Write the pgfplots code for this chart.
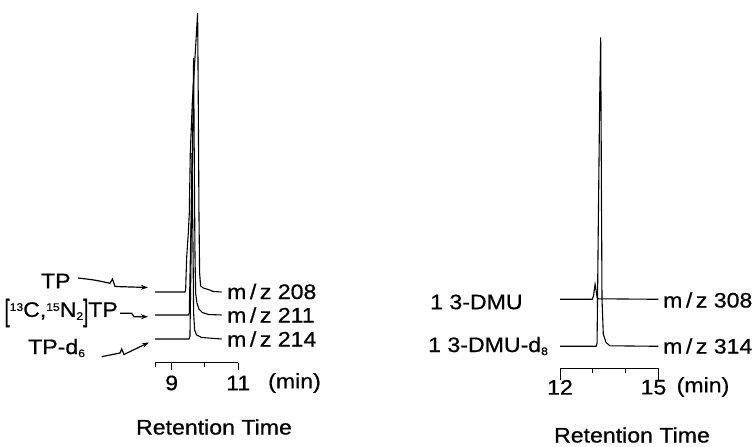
\documentclass[border=0pt]{standalone}
\usepackage{pgfplots}
\pgfplotsset{compat=1.18}
\usepackage{fontspec}
\usepackage{graphicx}
\setmainfont{Liberation Sans}[FakeStretch=1.1, FakeBold=0.6]
\usetikzlibrary{arrows.meta}

\pgfplotsset{
  chrom/.style={
    anchor=south west,
    axis x line=bottom, axis y line=none,
    axis line style={-, line width=1pt},
    y=1pt, ymin=0, ymax=360,
    clip=false,
    tick align=outside,
    xticklabels={},
    every tick/.style={black, line width=1pt},
    extra x tick labels={},
  },
  trace/.style={black, line width=1.1pt, mark=none},
}
\newcommand{\sups}[1]{\raisebox{6pt}{\fontsize{11}{11}\selectfont #1}}
\newcommand{\subs}[1]{\raisebox{-3pt}{\fontsize{11}{11}\selectfont #1}}

\begin{document}
\begin{tikzpicture}[font=\fontsize{21}{24}\selectfont]
\path[use as bounding box] (0,0) rectangle (755pt,447pt);

% ---------- left chromatogram (TP) ----------
\begin{axis}[chrom,
    at={(155pt,84pt)},
    x=33.3pt, xmin=8.5, xmax=11,
    xtick={9,11}, major tick length=7pt,
    extra x ticks={8.5,10}, extra x tick style={major tick length=4pt},
  ]
  % m/z 208
  \addplot[trace] coordinates {
    (8.5,71) (9.40,71) (9.42,73) (9.45,105) (9.50,130) (9.53,150)
    (9.56,210) (9.62,260) (9.70,305) (9.78,350) (9.80,260) (9.82,150)
    (9.84,90) (9.87,77) (9.95,75) (10.1,73.5) (10.25,71.5) (10.5,71)
  };
  % m/z 211
  \addplot[trace] coordinates {
    (8.5,48) (9.50,48) (9.53,50) (9.57,120) (9.62,200) (9.66,305)
    (9.68,200) (9.70,110) (9.72,70) (9.76,60) (9.82,54) (9.92,50.5)
    (10.1,48.5) (10.5,48)
  };
  % m/z 214
  \addplot[trace] coordinates {
    (8.5,24) (9.52,24) (9.55,27) (9.58,100) (9.61,210) (9.64,120)
    (9.66,50) (9.69,33) (9.75,28) (9.9,25.5) (10.5,24)
  };
  \node at ([yshift=-20pt]axis cs:9,0) {9};
  \node at ([yshift=-20pt]axis cs:11,0) {11};
\end{axis}

% ---------- right chromatogram (13-DMU) ----------
\begin{axis}[chrom,
    at={(560pt,78.7pt)},
    x=32.8pt, xmin=12, xmax=15,
    xtick={12,15}, major tick length=12pt,
    extra x ticks={13,14}, extra x tick style={major tick length=5pt},
  ]
  % m/z 308
  \addplot[trace] coordinates {
    (12,69) (12.98,69) (13.02,72) (13.07,84) (13.10,78) (13.13,71)
    (13.17,69.5) (15,69)
  };
  % m/z 314
  \addplot[trace] coordinates {
    (12,22) (13.10,22) (13.13,25) (13.17,150) (13.21,270) (13.24,331)
    (13.26,200) (13.28,70) (13.32,34) (13.40,26) (13.52,22.5) (15,22)
  };
  \node at ([yshift=-19pt]axis cs:12,0) {12};
  \node at ([yshift=-19pt]axis cs:14.85,0) {15};
\end{axis}

% ---------- labels, left ----------
\node at (55.8pt,166pt) {TP};
\node[anchor=east, inner sep=0pt] at (118pt,134pt)
  {\raisebox{-4pt}{\scalebox{0.8}[1.45]{[}}\sups{13}C,\sups{15}N\subs{2}\raisebox{-4pt}{\scalebox{0.8}[1.45]{]}}TP};
\node[anchor=west, inner sep=0pt] at (28pt,99pt) {TP-d\subs{6}};

\draw[line width=1.2pt, -{Stealth[length=7pt,width=5pt]}]
  (78pt,169pt) .. controls (95pt,167pt) .. (110pt,163.7pt)
  -- (112.5pt,168pt) -- (115pt,160.5pt) .. controls (130pt,160pt) .. (148pt,159.5pt);
\draw[line width=1.2pt, -{Stealth[length=7pt,width=5pt]}]
  (120pt,133.7pt) -- (131.7pt,133.7pt) -- (134pt,130.3pt) -- (148pt,130.3pt);
\draw[line width=1.2pt, -{Stealth[length=7pt,width=5pt]}]
  (101.7pt,90.3pt) .. controls (110pt,92pt) .. (120pt,94pt)
  -- (121.7pt,98pt) -- (124pt,92.5pt) .. controls (135pt,98pt) .. (149pt,104.5pt);

\node[anchor=west, inner sep=0pt] at (227pt,155.5pt) {m\,/\,z 208};
\node[anchor=west, inner sep=0pt] at (227pt,132pt) {m\,/\,z 211};
\node[anchor=west, inner sep=0pt] at (227pt,108pt) {m\,/\,z 214};
\node at (294.5pt,64pt) {(min)};
\node at (214pt,20pt) {Retention Time};

% ---------- labels, right ----------
\node[anchor=west, inner sep=0pt] at (430pt,145pt) {1 3-DMU};
\node[anchor=west, inner sep=0pt] at (428pt,101pt) {1 3-DMU-d\subs{8}};
\node[anchor=west, inner sep=0pt] at (663pt,147pt) {m\,/\,z 308};
\node[anchor=west, inner sep=0pt] at (663pt,101pt) {m\,/\,z 314};
\node at (703pt,60pt) {(min)};
\node at (632pt,12pt) {Retention Time};
\end{tikzpicture}
\end{document}
